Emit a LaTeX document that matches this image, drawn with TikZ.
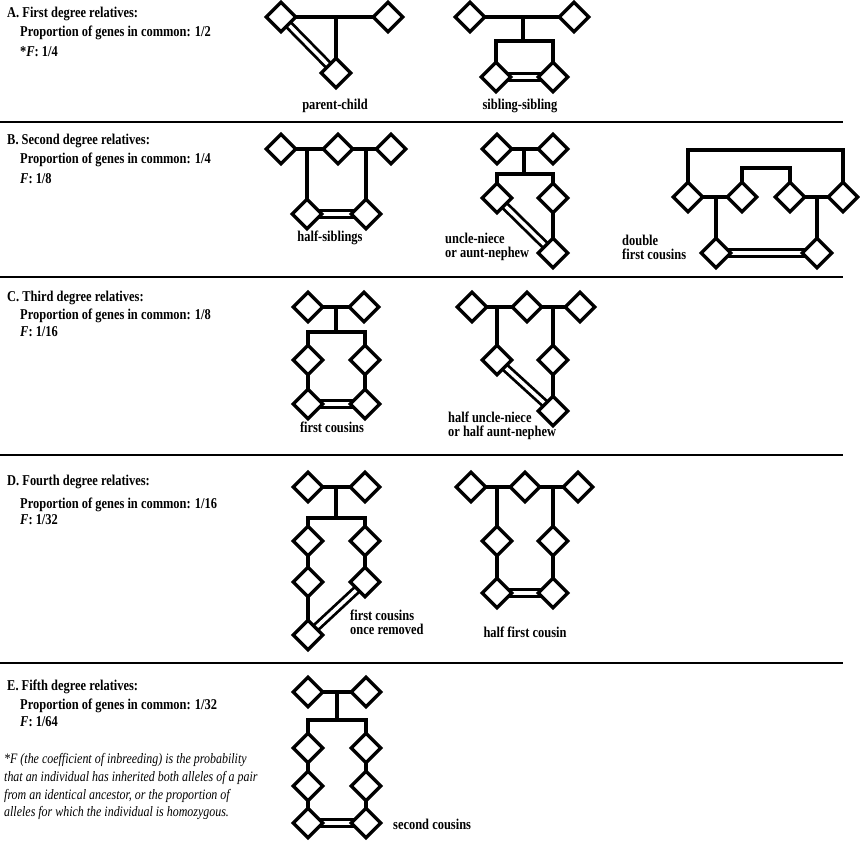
\documentclass[tikz,border=0pt]{standalone}
\usepackage{fontspec}
\setmainfont[FakeStretch=0.83]{Liberation Serif}
\usetikzlibrary{shapes.geometric}
\pgfdeclarelayer{bg}
\pgfsetlayers{bg,main}
\begin{document}
\begin{tikzpicture}[x=1pt,y=-1pt,
  dia/.style={diamond,draw,fill=white,line width=3.3pt,minimum width=31pt,minimum height=31pt,inner sep=0pt},
  link/.style={line width=3.2pt,line join=miter},
  dbl/.style={line width=2.8pt,double=white,double distance=3.6pt},
  rulel/.style={line width=2.4pt},
  txt/.style={font=\bfseries\fontsize{15}{18}\selectfont,inner sep=0pt,anchor=west},
  lab/.style={font=\bfseries\fontsize{15}{18}\selectfont,inner sep=0pt},
  llab/.style={font=\bfseries\fontsize{15}{14}\selectfont,inner sep=0pt,anchor=west,align=left},
  foot/.style={font=\itshape\fontsize{14.4}{18}\selectfont,inner sep=0pt,anchor=west}]
\useasboundingbox (0,0) rectangle (860,843);

% ---------- dividers
\draw[rulel] (0,122) -- (843,122);
\draw[rulel] (0,277) -- (843,277);
\draw[rulel] (0,455) -- (843,455);
\draw[rulel] (0,663) -- (843,663);

% ---------- texts
\node[txt] (ta1) at (7,14) {A. First degree relatives:};
\node[txt] (ta2) at (20,33) {Proportion of genes in common: 1/2};
\node[txt] (ta3) at (20,52) {*\textit{F}: 1/4};
\node[txt] (tb1) at (7,141) {B. Second degree relatives:};
\node[txt] (tb2) at (20,160) {Proportion of genes in common: 1/4};
\node[txt] (tb3) at (20,179) {\textit{F}: 1/8};
\node[txt] (tc1) at (7,298) {C. Third degree relatives:};
\node[txt] (tc2) at (20,316) {Proportion of genes in common: 1/8};
\node[txt] (tc3) at (20,332) {\textit{F}: 1/16};
\node[txt] (td1) at (7,482) {D. Fourth degree relatives:};
\node[txt] (td2) at (20,505) {Proportion of genes in common: 1/16};
\node[txt] (td3) at (20,520) {\textit{F}: 1/32};
\node[txt] (te1) at (7,687) {E. Fifth degree relatives:};
\node[txt] (te2) at (20,706) {Proportion of genes in common: 1/32};
\node[txt] (te3) at (20,722) {\textit{F}: 1/64};
\node[foot] (f1) at (4,760) {*F (the coefficient of inbreeding) is the probability};
\node[foot] (f2) at (4,778) {that an individual has inherited both alleles of a pair};
\node[foot] (f3) at (4,796) {from an identical ancestor, or the proportion of};
\node[foot] (f4) at (4,813) {alleles for which the individual is homozygous.};

% ================= A: parent-child
\node[dia] (a1) at (281,17) {};
\node[dia] (a2) at (388,17) {};
\node[dia] (a3) at (336,73) {};
\coordinate (a12) at (336,17);
\node[lab] (la1) at (335,106) {parent-child};
% ================= A: sibling-sibling
\node[dia] (b1) at (470,17) {};
\node[dia] (b2) at (574,17) {};
\node[dia] (b3) at (496,77) {};
\node[dia] (b4) at (553,77) {};
\coordinate (b12) at (523,17);
\coordinate (b12d) at (523,41);
\coordinate (b3u) at (496,41);
\coordinate (b4u) at (553,41);
\node[lab] (la2) at (520,106) {sibling-sibling};

% ================= B: half-siblings
\node[dia] (c1) at (281,149) {};
\node[dia] (c2) at (338,149) {};
\node[dia] (c3) at (391,149) {};
\node[dia] (c4) at (307,214) {};
\node[dia] (c5) at (366,214) {};
\coordinate (c12) at (307,149);
\coordinate (c23) at (366,149);
\node[lab] (lb1) at (330,238) {half-siblings};
% ================= B: uncle-niece
\node[dia] (d1) at (497,149) {};
\node[dia] (d2) at (553,149) {};
\node[dia] (d3) at (497,198) {};
\node[dia] (d4) at (553,198) {};
\node[dia] (d5) at (553,253) {};
\coordinate (d12) at (524,149);
\coordinate (d12d) at (524,174);
\coordinate (d3u) at (497,174);
\coordinate (d4u) at (553,174);
\node[llab] (lb2) at (445,247) {uncle-niece\\or aunt-nephew};
% ================= B: double first cousins
\node[dia] (e1) at (688,197) {};
\node[dia] (e2) at (742,197) {};
\node[dia] (e3) at (790,197) {};
\node[dia] (e4) at (843,197) {};
\node[dia] (e5) at (716,253) {};
\node[dia] (e6) at (817,253) {};
\coordinate (e1u) at (688,150);
\coordinate (e4u) at (843,150);
\coordinate (e2u) at (742,168);
\coordinate (e3u) at (790,168);
\coordinate (e12) at (716,197);
\coordinate (e34) at (817,197);
\node[llab] (lb4) at (622,247) {double\\first cousins};

% ================= C: first cousins
\node[dia] (g1) at (308,307) {};
\node[dia] (g2) at (364,307) {};
\node[dia] (g3) at (308,360) {};
\node[dia] (g4) at (365,360) {};
\node[dia] (g5) at (308,404) {};
\node[dia] (g6) at (365,404) {};
\coordinate (g12) at (336,307);
\coordinate (g12d) at (336,332);
\coordinate (g3u) at (308,332);
\coordinate (g4u) at (365,332);
\node[lab] (lc1) at (332,427) {first cousins};
% ================= C: half uncle-niece
\node[dia] (h1) at (472,307) {};
\node[dia] (h2) at (527,307) {};
\node[dia] (h3) at (580,307) {};
\node[dia] (h4) at (497,360) {};
\node[dia] (h5) at (553,360) {};
\node[dia] (h6) at (553,411) {};
\coordinate (h12) at (497,307);
\coordinate (h23) at (553,307);
\node[llab] (lc2) at (448,426) {half uncle-niece\\or half aunt-nephew};

% ================= D: first cousins once removed
\node[dia] (i1) at (308,487) {};
\node[dia] (i2) at (365,487) {};
\node[dia] (i3) at (308,541) {};
\node[dia] (i4) at (365,541) {};
\node[dia] (i5) at (308,582) {};
\node[dia] (i6) at (365,582) {};
\node[dia] (i7) at (308,635) {};
\coordinate (i12) at (336,487);
\coordinate (i12d) at (336,518);
\coordinate (i3u) at (308,518);
\coordinate (i4u) at (365,518);
\node[llab] (ld1) at (350,622) {first cousins\\once removed};
% ================= D: half first cousin
\node[dia] (j1) at (471,487) {};
\node[dia] (j2) at (525,487) {};
\node[dia] (j3) at (578,487) {};
\node[dia] (j4) at (497,541) {};
\node[dia] (j5) at (553,541) {};
\node[dia] (j6) at (497,593) {};
\node[dia] (j7) at (553,593) {};
\coordinate (j12) at (497,487);
\coordinate (j23) at (553,487);
\node[lab] (ld3) at (525,632) {half first cousin};

% ================= E: second cousins
\node[dia] (k1) at (308,692) {};
\node[dia] (k2) at (366,692) {};
\node[dia] (k3) at (308,748) {};
\node[dia] (k4) at (366,748) {};
\node[dia] (k5) at (308,786) {};
\node[dia] (k6) at (366,786) {};
\node[dia] (k7) at (308,823) {};
\node[dia] (k8) at (366,823) {};
\coordinate (k12) at (337,692);
\coordinate (k12d) at (337,720);
\coordinate (k3u) at (308,720);
\coordinate (k4u) at (366,720);
\node[txt] (le1) at (393,824) {second cousins};

% ================= connectors (behind the diamonds)
\begin{pgfonlayer}{bg}
% A
\draw[link] (a1.center) -- (a2.center);
\draw[link] (a12) -- (a3.center);
\draw[dbl] (a1.center) -- (a3.center);
\draw[link] (b1.center) -- (b2.center);
\draw[link] (b12) -- (b12d);
\draw[link] (b3.center) -- (b3u) -- (b4u) -- (b4.center);
\draw[dbl] (b3.center) -- (b4.center);
% B
\draw[link] (c1.center) -- (c3.center);
\draw[link] (c12) -- (c4.center);
\draw[link] (c23) -- (c5.center);
\draw[dbl] (c4.center) -- (c5.center);
\draw[link] (d1.center) -- (d2.center);
\draw[link] (d12) -- (d12d);
\draw[link] (d3.center) -- (d3u) -- (d4u) -- (d4.center);
\draw[link] (d4.center) -- (d5.center);
\draw[dbl] (d3.center) -- (d5.center);
\draw[link] (e1.center) -- (e1u) -- (e4u) -- (e4.center);
\draw[link] (e2.center) -- (e2u) -- (e3u) -- (e3.center);
\draw[link] (e1.center) -- (e2.center);
\draw[link] (e3.center) -- (e4.center);
\draw[link] (e12) -- (e5.center);
\draw[link] (e34) -- (e6.center);
\draw[dbl] (e5.center) -- (e6.center);
% C
\draw[link] (g1.center) -- (g2.center);
\draw[link] (g12) -- (g12d);
\draw[link] (g5.center) -- (g3.center) -- (g3u) -- (g4u) -- (g4.center) -- (g6.center);
\draw[dbl] (g5.center) -- (g6.center);
\draw[link] (h1.center) -- (h3.center);
\draw[link] (h12) -- (h4.center);
\draw[link] (h23) -- (h5.center) -- (h6.center);
\draw[dbl] (h4.center) -- (h6.center);
% D
\draw[link] (i1.center) -- (i2.center);
\draw[link] (i12) -- (i12d);
\draw[link] (i7.center) -- (i3.center) -- (i3u) -- (i4u) -- (i4.center) -- (i6.center);
\draw[dbl] (i6.center) -- (i7.center);
\draw[link] (j1.center) -- (j3.center);
\draw[link] (j12) -- (j6.center);
\draw[link] (j23) -- (j7.center);
\draw[dbl] (j6.center) -- (j7.center);
% E
\draw[link] (k1.center) -- (k2.center);
\draw[link] (k12) -- (k12d);
\draw[link] (k7.center) -- (k3.center) -- (k3u) -- (k4u) -- (k4.center) -- (k8.center);
\draw[dbl] (k7.center) -- (k8.center);
\end{pgfonlayer}
\end{tikzpicture}
\end{document}
